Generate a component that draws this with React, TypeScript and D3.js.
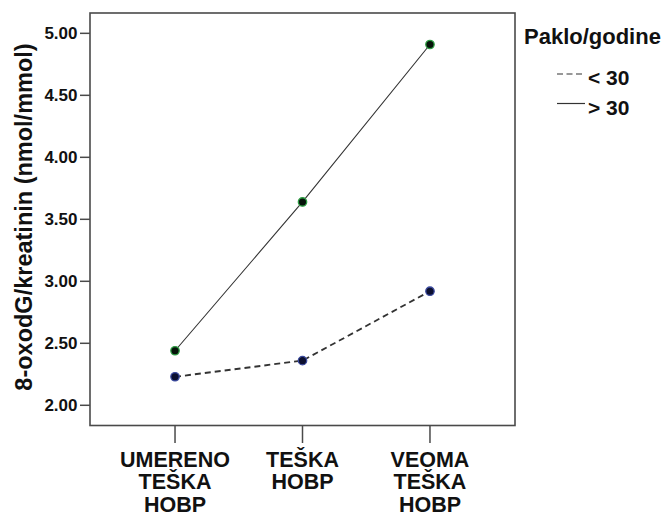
import React from "react";
import * as d3 from "d3";

// Categories (COPD severity) and mean 8-oxodG/creatinine per smoking group
const categories = ["UMERENO TEŠKA HOBP", "TEŠKA HOBP", "VEOMA TEŠKA HOBP"];
const categoryLines = [["UMERENO", "TEŠKA", "HOBP"], ["TEŠKA", "HOBP"], ["VEOMA", "TEŠKA", "HOBP"]];
const seriesNames = ["< 30", "> 30"];
const under30 = [2.23, 2.36, 2.92];
const over30 = [2.44, 3.64, 4.91];
const yTicks = [2.0, 2.5, 3.0, 3.5, 4.0, 4.5, 5.0];

const W = 670;
const H = 517;
const left = 90;
const right = 515;
const top = 13;
const bottom = 425.5;
const font = "'Liberation Sans', Arial, Helvetica, sans-serif";

export default function App() {
  const x = d3.scalePoint<string>().domain(categories).range([left, right]).padding(0.667);
  const y = d3.scaleLinear().domain([1.837, 5.164]).range([bottom, top]);
  const line = d3
    .line<number>()
    .x((_, i) => x(categories[i]) as number)
    .y((d) => y(d));

  const series = [
    { name: seriesNames[0], values: under30, dash: "6,4", width: 1.8, fill: "#0c1030", ring: "#3b4a9e" },
    { name: seriesNames[1], values: over30, dash: undefined, width: 1.1, fill: "#06140a", ring: "#2f9e44" },
  ];

  return (
    <svg
      width={W}
      height={H}
      style={{ position: "absolute", left: 0, top: 0, background: "#fff" }}
      fontFamily={font}
      fontWeight="bold"
    >
      {/* plot frame */}
      <rect x={left} y={top} width={right - left} height={bottom - top} fill="none" stroke="#4a4a4a" strokeWidth={1.6} />

      {/* y axis ticks */}
      {yTicks.map((t) => (
        <g key={t}>
          <line x1={80} x2={left} y1={y(t)} y2={y(t)} stroke="#4a4a4a" strokeWidth={1.5} />
          <text x={77.5} y={y(t)} dy="0.36em" textAnchor="end" fontSize={17} fill="#111">
            {t.toFixed(2)}
          </text>
        </g>
      ))}

      {/* y axis title */}
      <text
        transform={`translate(32,217) rotate(-90)`}
        textAnchor="middle"
        fontSize={23.5}
        fill="#111"
      >
        8-oxodG/kreatinin (nmol/mmol)
      </text>

      {/* x axis ticks and category labels */}
      {categories.map((c, i) => (
        <g key={c}>
          <line x1={x(c)} x2={x(c)} y1={bottom} y2={443} stroke="#4a4a4a" strokeWidth={1.5} />
          {categoryLines[i].map((l, j) => (
            <text key={j} x={x(c)} y={466.5 + j * 22.5} textAnchor="middle" fontSize={21.5} fill="#111">
              {l}
            </text>
          ))}
        </g>
      ))}

      {/* series lines */}
      {series.map((s) => (
        <path
          key={s.name}
          d={line(s.values) ?? ""}
          fill="none"
          stroke="#333"
          strokeWidth={s.width}
          strokeDasharray={s.dash}
        />
      ))}

      {/* series markers */}
      {series.map((s) =>
        s.values.map((v, i) => (
          <circle
            key={s.name + i}
            cx={x(categories[i])}
            cy={y(v)}
            r={4.2}
            fill={s.fill}
            stroke={s.ring}
            strokeWidth={1.3}
          />
        ))
      )}

      {/* legend */}
      <text x={524} y={44} fontSize={22} fill="#111">
        Paklo/godine
      </text>
      {series.map((s, i) => (
        <g key={s.name}>
          <line
            x1={557}
            x2={585}
            y1={74 + i * 29.5}
            y2={74 + i * 29.5}
            stroke="#333"
            strokeWidth={1.2}
            strokeDasharray={s.dash ? "6,3.5" : undefined}
          />
          <text x={588} y={85 + i * 29.5} fontSize={21} fill="#111">
            {s.name}
          </text>
        </g>
      ))}
    </svg>
  );
}
